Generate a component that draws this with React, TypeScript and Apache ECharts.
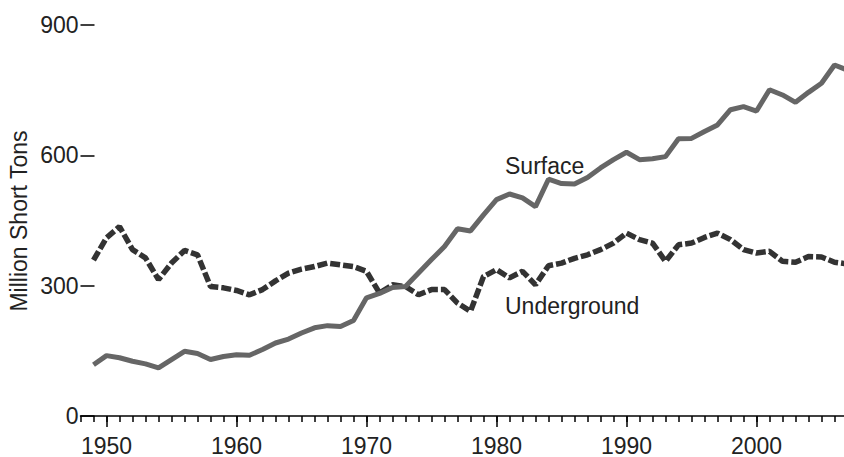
import React, { useEffect, useRef } from "react";
import * as echarts from "echarts";

const axisYears: number[] = [];
for (let y = 1948; y <= 2007; y++) axisYears.push(y);

const dataYears: number[] = [];
for (let y = 1949; y <= 2007; y++) dataYears.push(y);

const surface = [
  118, 139, 134, 126, 120, 111, 130, 149, 144, 130,
  137, 141, 140, 153, 168, 177, 191, 203, 208, 206,
  220, 272, 282, 296, 298, 329, 360, 390, 431, 426,
  463, 498, 511, 502, 482, 545, 535, 534, 549, 571,
  590, 607, 590, 592, 597, 638, 639, 655, 670, 705,
  712, 702, 751, 739, 722, 745, 766, 808, 796,
];

const underground = [
  359, 410, 436, 383, 364, 314, 352, 381, 371, 298,
  295, 289, 279, 291, 311, 329, 338, 344, 352, 348,
  344, 333, 283, 302, 298, 279, 291, 291, 260, 241,
  321, 337, 318, 333, 302, 346, 352, 363, 371, 383,
  398, 421, 406, 398, 356, 394, 398, 411, 421, 406,
  383, 375, 379, 356, 354, 367, 366, 354, 350,
];

const yTicks = [0, 300, 600, 900];

const FONT = "'Liberation Sans', Arial, Helvetica, sans-serif";

export default function App() {
  const ref = useRef<HTMLDivElement>(null);
  useEffect(() => {
    if (!ref.current) return;
    const chart = echarts.init(ref.current, undefined, { renderer: "svg" });
    const isDecade = (_i: number, v: string) => Number(v) % 10 === 0;
    chart.setOption({
      animation: false,
      backgroundColor: "#ffffff",
      grid: { left: 80.5, top: 25, right: 0.5, bottom: 39.5, containLabel: false },
      xAxis: [
        {
          type: "category",
          data: axisYears.map(String),
          boundaryGap: false,
          axisLine: { show: true, lineStyle: { color: "#000", width: 1.5 } },
          axisTick: { show: true, interval: 0, length: 6, lineStyle: { color: "#000", width: 1.5 } },
          axisLabel: {
            interval: isDecade,
            fontSize: 23,
            color: "#222",
            fontFamily: FONT,
            margin: 18,
          },
          splitLine: { show: false },
        },
        {
          type: "category",
          data: axisYears.map(String),
          boundaryGap: false,
          position: "bottom",
          axisLine: { show: false },
          axisTick: { show: true, interval: isDecade, length: 11, lineStyle: { color: "#000", width: 1.5 } },
          axisLabel: { show: false },
          splitLine: { show: false },
        },
      ],
      yAxis: {
        type: "value",
        min: yTicks[0],
        max: yTicks[yTicks.length - 1],
        interval: 300,
        axisLine: { show: false },
        axisTick: { show: true, inside: true, length: 14, lineStyle: { color: "#000", width: 1.5 } },
        axisLabel: { fontSize: 23, color: "#222", fontFamily: FONT, margin: 2 },
        splitLine: { show: false },
      },
      graphic: [
        {
          type: "text",
          x: 19,
          y: 221,
          rotation: Math.PI / 2,
          style: {
            text: "Million Short Tons",
            fontSize: 23,
            fontFamily: FONT,
            fill: "#222",
            align: "center",
            verticalAlign: "middle",
          },
        },
        {
          type: "text",
          x: 505,
          y: 166,
          style: {
            text: "Surface",
            fontSize: 23,
            fontFamily: FONT,
            fill: "#222",
            align: "left",
            verticalAlign: "middle",
          },
        },
        {
          type: "text",
          x: 505,
          y: 306,
          style: {
            text: "Underground",
            fontSize: 23,
            fontFamily: FONT,
            fill: "#222",
            align: "left",
            verticalAlign: "middle",
          },
        },
      ],
      series: [
        {
          name: "Underground",
          type: "line",
          xAxisIndex: 0,
          data: dataYears.map((y, i) => [String(y), underground[i]]),
          showSymbol: false,
          symbol: "none",
          lineStyle: { color: "#333", width: 5.5, type: [10, 3] },
          z: 2,
        },
        {
          name: "Surface",
          type: "line",
          xAxisIndex: 0,
          data: dataYears.map((y, i) => [String(y), surface[i]]),
          showSymbol: false,
          symbol: "none",
          lineStyle: { color: "#666", width: 5 },
          z: 3,
        },
      ],
    });
    return () => chart.dispose();
  }, []);
  return (
    <div style={{ position: "fixed", left: 0, top: 0, width: 844, height: 457, overflow: "hidden", background: "#fff" }}>
      <div ref={ref} style={{ width: 848, height: 457 }} />
    </div>
  );
}
